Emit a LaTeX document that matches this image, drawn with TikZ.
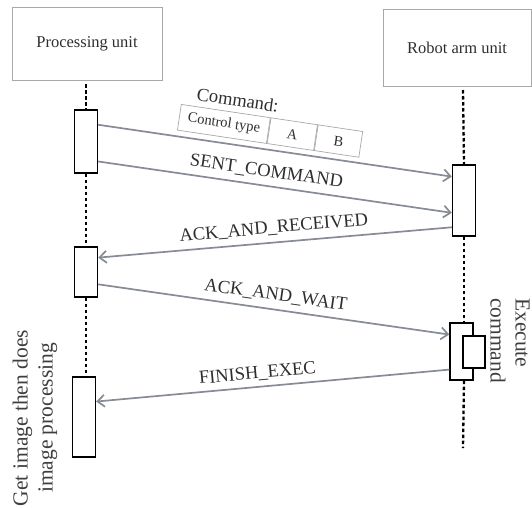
\documentclass[tikz,border=0pt]{standalone}
\usepackage{fontspec}
\setmainfont{Liberation Serif}
\usetikzlibrary{arrows.meta,calc}
\definecolor{arrowgray}{HTML}{868B96}
\definecolor{hdrgray}{HTML}{A8A8A8}
\definecolor{txt}{HTML}{2E2E2E}
\tikzset{
  header/.style={draw=hdrgray, line width=0.9pt, text=txt, font=\fontsize{16.5}{20}\selectfont, inner sep=0pt},
  act/.style={draw=black, line width=1.4pt, fill=white, inner sep=0pt, minimum width=23pt},
  lifeline/.style={draw=black, line width=2.3pt, dash pattern=on 3.5pt off 2.5pt},
  msg/.style={draw=arrowgray, line width=1.7pt, -{Straight Barb[length=7pt,width=12pt,line width=1.7pt]}},
  lbl/.style={text=txt, font=\fontsize{18.5}{20}\selectfont, inner sep=0pt, sloped},
  cell/.style={draw=hdrgray, line width=0.7pt, text=txt, font=\fontsize{14.5}{16}\selectfont, minimum height=26pt, inner sep=0pt, rotate=-8.5},
  side/.style={text=txt!80!gray, font=\fontsize{21.5}{25}\selectfont, inner sep=0pt}
}
\begin{document}
\begin{tikzpicture}[x=1pt,y=-1pt]
\useasboundingbox (0,0) rectangle (532,507);
% headers
\node[header, minimum width=150pt, minimum height=73pt] (ph) at (87,43.5) {Processing unit};
\node[header, minimum width=148pt, minimum height=77pt] (rh) at (457,47.5) {Robot arm unit};
% activation boxes
\node[act, minimum height=63pt] (l1) at (86,141.5) {};
\node[act, minimum height=50pt] (l2) at (86,272) {};
\node[act, minimum height=80pt] (l3) at (84,417) {};
\node[act, minimum height=71pt] (r1) at (464,200.5) {};
\node[act, minimum height=57pt] (r2) at (461.5,351.5) {};
\node[act, minimum height=32pt, minimum width=22pt] (r3) at (474,352) {};
\coordinate (lstart) at (86,84);
\coordinate (rstart) at (463,90);
\coordinate (rend) at (463,448);
% lifelines
\draw[lifeline] (lstart) -- (l1.north);
\draw[lifeline] (l1.south) -- (l2.north);
\draw[lifeline] (l2.south) -- (l3.north -| l2.south);
\draw[lifeline] (rstart) -- (r1.north);
\draw[lifeline] (r1.south) -- (r2.north -| r1.south);
\draw[lifeline] (r2.south -| r1.south) -- (rend);
% messages
\draw[msg] ($(l1.north east)!0.24!(l1.south east)$) -- ($(r1.north west)!0.17!(r1.south west)$);
\draw[msg] ($(l1.north east)!0.81!(l1.south east)$) -- node[lbl, pos=0.47, above=6pt] (m2) {SENT\_COMMAND} ($(r1.north west)!0.67!(r1.south west)$);
\draw[msg] ($(r1.north west)!0.87!(r1.south west)$) -- node[lbl, pos=0.5, above=6pt] (m3) {ACK\_AND\_RECEIVED} ($(l2.north east)!0.22!(l2.south east)$);
\draw[msg] ($(l2.north east)!0.74!(l2.south east)$) -- node[lbl, pos=0.5, above=6pt] (m4) {ACK\_AND\_WAIT} ($(r2.north west)!0.21!(r2.south west)$);
\draw[msg] ($(r2.north west)!0.81!(r2.south west)$) -- node[lbl, pos=0.54, above=5pt] (m5) {FINISH\_EXEC} ($(l3.north east)!0.31!(l3.south east)$);
% command table
\node[cell, minimum width=90pt, anchor=north west] (ct) at (181,104) {Control type};
\node[cell, minimum width=47pt, anchor=west] (ca) at (ct.east) {A};
\node[cell, minimum width=45pt, anchor=west] (cb) at (ca.east) {B};
\node[text=txt, font=\fontsize{18.5}{20}\selectfont, inner sep=0pt, rotate=-8.5, anchor=base west] (cmd) at (196,100) {Command:};
% side notes
\node[side, rotate=-90, align=left, anchor=north west] (exe) at (530,298) {Execute\\command};
\node[side, rotate=90, align=center] (gi) at (35,418) {Get image then does\\image processing};
\end{tikzpicture}
\end{document}
